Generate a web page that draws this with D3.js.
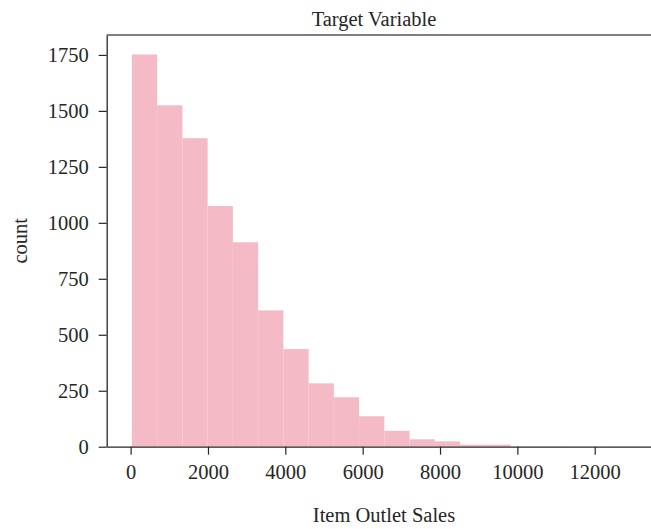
<!DOCTYPE html>
<html>
<head>
<meta charset="utf-8">
<script src="https://cdn.jsdelivr.net/npm/d3@7"></script>
<style>
  body { margin: 0; background: #fff; }
  svg { display: block; }
  text { font-family: "Liberation Serif", "DejaVu Serif", serif; fill: #262626; }
</style>
</head>
<body>
<svg id="chart"></svg>
<script>
// histogram bins of Item Outlet Sales (20 bins)
const binEdges = [33, 686, 1339, 1991, 2644, 3297, 3949, 4602, 5255, 5907, 6560,
                  7213, 7865, 8518, 9171, 9824, 10476, 11129, 11782, 12434, 13087];
const binCounts = [1752, 1525, 1378, 1075, 913, 609, 436, 283, 221, 136,
                   71, 33, 24, 9, 9, 1, 1, 0, 0, 1];
const xTicks = [0, 2000, 4000, 6000, 8000, 10000, 12000];
const yTicks = [0, 250, 500, 750, 1000, 1250, 1500, 1750];

const width = 651;
const height = 529;
const plot = {left: 106.7, top: 35, bottom: 446.7, right: 662};

const svg = d3.select('#chart').attr('width', width).attr('height', height);

// x range has matplotlib-like 5% margins, the right side runs out of the frame
const x = d3.scaleLinear().domain([-619, 13740]).range([plot.left, plot.right]);
const y = d3.scaleLinear().domain([0, 1839]).range([plot.bottom, plot.top]);

const bins = binCounts.map((c, i) => ({x0: binEdges[i], x1: binEdges[i + 1], count: c}));

svg.append('g').selectAll('rect')
  .data(bins)
  .enter().append('rect')
    .attr('x', d => x(d.x0))
    .attr('width', d => x(d.x1) - x(d.x0))
    .attr('y', d => y(d.count))
    .attr('height', d => y(0) - y(d.count))
    .attr('fill', '#f4bac6');

// axes
const fmt = d3.format('d');
const xAxis = svg.append('g')
  .attr('transform', `translate(0,${plot.bottom})`)
  .call(d3.axisBottom(x).tickValues(xTicks).tickFormat(fmt).tickSize(8).tickPadding(10).tickSizeOuter(0));
const yAxis = svg.append('g')
  .attr('transform', `translate(${plot.left},0)`)
  .call(d3.axisLeft(y).tickValues(yTicks).tickFormat(fmt).tickSize(8).tickPadding(10).tickSizeOuter(0));

[xAxis, yAxis].forEach(g => {
  g.select('.domain').attr('stroke', '#262626').attr('stroke-width', 1.3);
  g.selectAll('.tick line').attr('stroke', '#262626').attr('stroke-width', 1.2);
  g.selectAll('.tick text')
    .attr('font-family', '"Liberation Serif", serif')
    .attr('font-size', 20.5)
    .attr('fill', '#262626');
});

// top spine
svg.append('line')
  .attr('x1', plot.left).attr('x2', width)
  .attr('y1', plot.top).attr('y2', plot.top)
  .attr('stroke', '#555').attr('stroke-width', 1.3);

// labels
svg.append('text')
  .attr('x', 374).attr('y', 26)
  .attr('text-anchor', 'middle')
  .attr('font-size', 20.5)
  .text('Target Variable');

svg.append('text')
  .attr('x', 384).attr('y', 522)
  .attr('text-anchor', 'middle')
  .attr('font-size', 20.5)
  .text('Item Outlet Sales');

svg.append('text')
  .attr('transform', `translate(27,${(plot.top + plot.bottom) / 2}) rotate(-90)`)
  .attr('text-anchor', 'middle')
  .attr('font-size', 20.5)
  .text('count');
</script>
</body>
</html>
